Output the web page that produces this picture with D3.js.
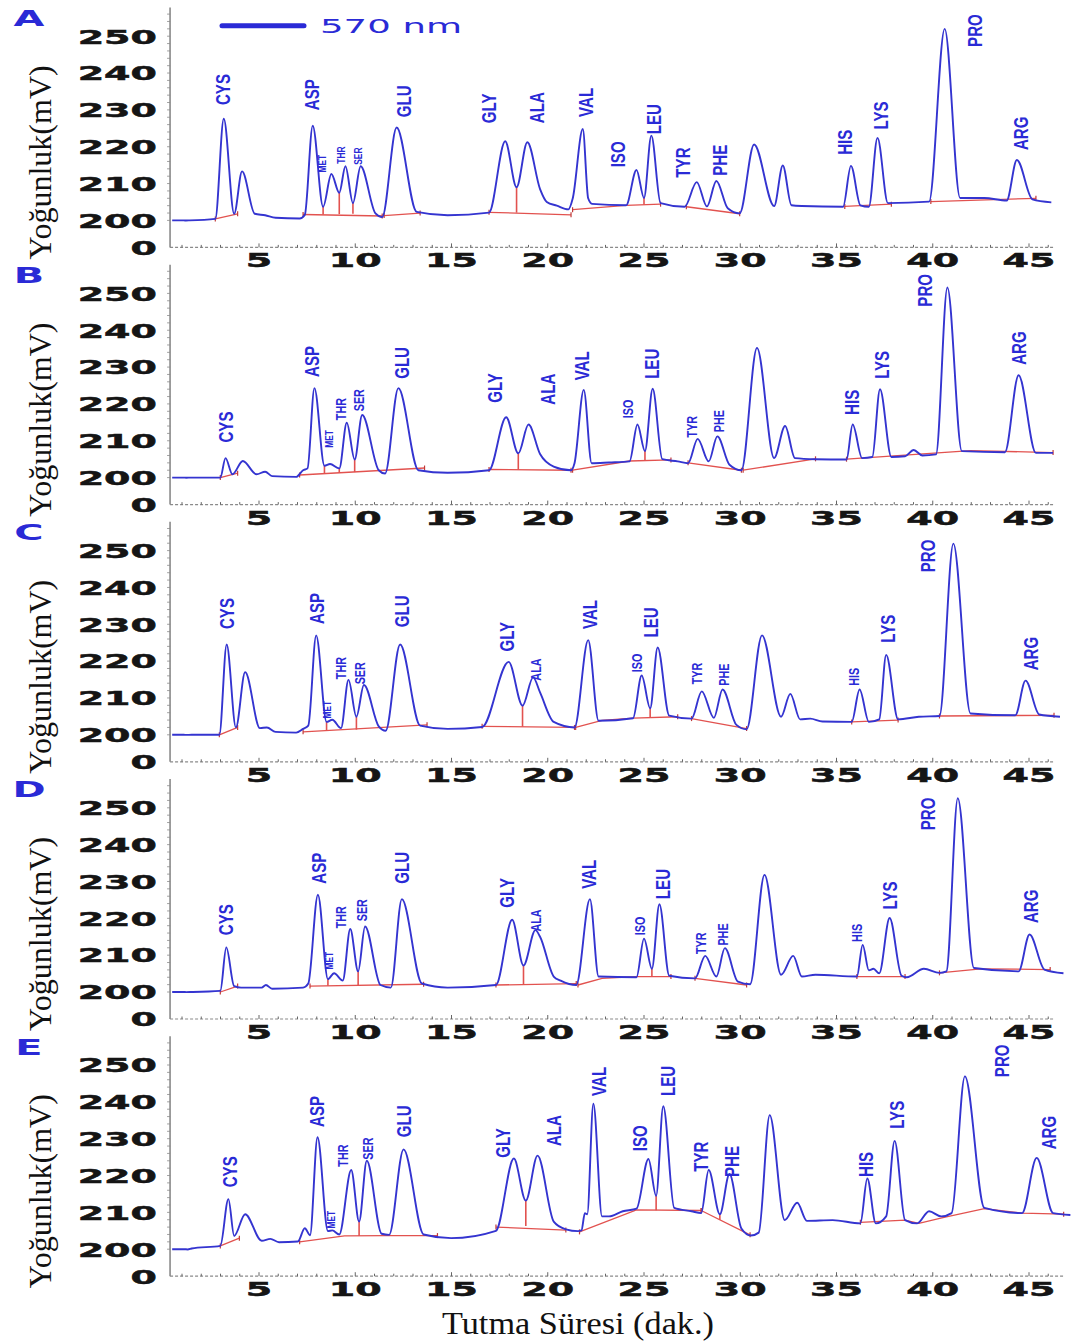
<!DOCTYPE html>
<html>
<head>
<meta charset="utf-8">
<script src="https://cdn.jsdelivr.net/npm/d3@7"></script>
<style>
  body { margin: 0; background: #fff; }
  svg { display: block; }
</style>
</head>
<body>
<div id="chart"></div>
<script>
// ---------------------------------------------------------------------------//
// Data: retention time (min) and signal (mV)
// ---------------------------------------------------------------------------//
const panelNames = ["A", "B", "C", "D", "E"];
const xTicks = [5, 10, 15, 20, 25, 30, 35, 40, 45];
const yTicks = [0, 200, 210, 220, 230, 240, 250];

const traceA = [
  [0.49, 200], [1.1, 200], [1.21, 199.5], [1.4, 200], [2.73, 200.4], [3.17, 227.6], [3.71, 201.8], [4.12, 213.3],
  [4.78, 201.8], [5.32, 201.4], [5.86, 200.7], [7.11, 200.5], [7.38, 201.5], [7.79, 225.7], [8.33, 203.7],
  [8.76, 212.6], [9.17, 207.5], [9.49, 214.7], [9.88, 204.7], [10.28, 214.7], [11.05, 201.9], [11.40, 200.9],
  [12.15, 225.2], [13.19, 202.3], [14.8, 201.4], [16.95, 202.1], [17.79, 221.5], [18.38, 209], [18.94, 221.2],
  [19.6, 208.5], [19.95, 205], [20.47, 204], [21.07, 203], [21.3, 206], [21.82, 224.8], [22.1, 206], [22.3, 204.5],
  [24.07, 204.1], [24.61, 213.7], [25.0, 206.1], [25.38, 223.0], [25.86, 204.7], [27.11, 203.7], [27.74, 210.4],
  [28.27, 203.8], [28.76, 210.7], [29.35, 203.3], [29.97, 201.9], [30.72, 220.6], [31.76, 203.9], [32.21, 214.9],
  [32.66, 204.1], [33.2, 203.9], [35.34, 203.7], [35.75, 214.8], [36.24, 204.1], [36.68, 203.7], [37.13, 222.4],
  [37.67, 204.7], [39.81, 205.1], [40.62, 252.0], [41.42, 206.1], [42.68, 206.1], [43.84, 205.4], [44.37, 216.4],
  [45.18, 205.7], [46.16, 204.9]
];
const traceB = [
  [0.49, 200], [1.1, 200], [1.21, 199.3], [1.5, 200], [2.99, 200], [3.26, 205.3], [3.62, 200.9], [4.16, 204.5],
  [4.87, 200.9], [5.32, 201.6], [5.68, 200.4], [6.93, 200.2], [7.29, 202.0], [7.52, 202.5], [7.88, 224.3],
  [8.40, 203.2], [8.69, 203.7], [9.17, 202.5], [9.56, 214.9], [9.97, 204.9], [10.36, 217.0], [11.22, 202.0],
  [11.55, 201.1], [12.24, 224.3], [13.28, 202.0], [14.8, 201.3], [16.95, 202.0], [17.84, 216.4], [18.47, 206.6],
  [19.0, 214.4], [19.6, 206.4], [20.31, 203.0], [21.21, 202.0], [21.39, 203.9], [21.87, 223.8], [22.28, 203.9],
  [23.18, 204.1], [24.25, 204.4], [24.66, 214.4], [25.05, 207.2], [25.45, 224.1], [25.95, 205.0], [26.75, 204.4],
  [27.29, 203.9], [27.79, 210.5], [28.36, 204.4], [28.81, 211.2], [29.44, 203.5], [30.06, 202.0], [30.87, 235.2],
  [31.76, 205.3], [32.33, 214.0], [32.84, 205.3], [33.91, 205.0], [35.52, 204.9], [35.84, 214.4], [36.33, 205.3],
  [36.86, 205.6], [37.26, 224.0], [37.85, 205.6], [38.56, 205.8], [39.01, 207.5], [39.46, 206.0], [40.17, 206.3],
  [40.76, 251.6], [41.51, 207.2], [43.75, 206.9], [44.46, 227.8], [45.36, 206.7], [46.25, 206.7]
];
const traceC = [
  [0.49, 200], [1.1, 200], [1.21, 199.2], [1.5, 200], [2.94, 200], [3.32, 224.5], [3.80, 202.0], [4.28, 217.0],
  [5.05, 201.8], [5.41, 202.0], [5.86, 200.8], [6.93, 200.6], [7.29, 201.6], [7.56, 202.5], [7.97, 227.0],
  [8.51, 203.5], [8.81, 204.1], [9.26, 201.8], [9.65, 214.9], [10.06, 204.9], [10.45, 213.5], [11.22, 202.3],
  [11.58, 201.1], [12.33, 224.5], [13.37, 202.5], [14.8, 201.6], [16.59, 202.1], [17.97, 219.8], [18.69, 207.9],
  [19.24, 215.6], [19.6, 211.5], [20.31, 203.5], [21.39, 202.0], [22.1, 225.7], [22.64, 203.8], [24.43, 204.5],
  [24.88, 216.1], [25.32, 207.2], [25.71, 223.7], [26.31, 205.2], [27.47, 204.4], [28.0, 211.8], [28.63, 204.6],
  [29.08, 212.3], [29.80, 202.7], [30.33, 201.5], [31.13, 227.0], [32.12, 204.9], [32.6, 211.1], [33.11, 204.2],
  [33.64, 204.4], [34.27, 203.6], [35.79, 203.5], [36.2, 212.3], [36.68, 203.5], [37.22, 204.2], [37.58, 221.7],
  [38.2, 204.2], [39.28, 204.9], [40.35, 205.1], [41.07, 251.9], [41.96, 205.8], [44.29, 205.3], [44.82, 214.7],
  [45.53, 205.5], [46.61, 204.9]
];
const traceD = [
  [0.49, 200], [1.1, 200], [1.21, 199.3], [1.5, 200], [2.99, 200.3], [3.30, 212.1], [3.71, 201.6], [4.07, 201.2],
  [5.14, 201.2], [5.36, 201.9], [5.68, 200.9], [7.29, 201.2], [7.56, 202.3], [8.06, 226.4], [8.58, 203.5],
  [8.90, 205.1], [9.35, 203.1], [9.74, 217.1], [10.15, 205.6], [10.51, 217.8], [11.31, 201.9], [11.85, 201.2],
  [12.42, 225.2], [13.46, 202.3], [14.8, 201.2], [17.31, 201.9], [18.15, 219.6], [18.74, 207.2], [19.36, 216.8],
  [19.6, 215.0], [20.31, 204.2], [20.67, 203.1], [21.48, 201.9], [22.19, 225.2], [22.64, 204.2], [24.61, 204.0],
  [25.0, 214.5], [25.41, 206.3], [25.8, 223.8], [26.31, 204.4], [27.65, 203.7], [28.18, 209.8], [28.76, 204.2],
  [29.2, 211.9], [29.88, 202.8], [30.51, 202.1], [31.26, 231.8], [32.12, 204.7], [32.75, 209.8], [33.2, 204.2],
  [33.91, 204.7], [36.06, 204.2], [36.36, 212.8], [36.68, 205.9], [36.92, 206.3], [37.22, 205.1], [37.76, 220.1],
  [38.38, 204.4], [38.65, 204.0], [39.54, 206.3], [40.35, 205.2], [40.71, 205.6], [41.3, 252.6], [42.14, 206.5],
  [44.46, 205.6], [45.03, 215.6], [45.8, 206.1], [46.79, 205.1]
];
const traceE = [
  [0.49, 200], [1.1, 200], [1.3, 198.3], [1.5, 200.2], [2.99, 200.9], [3.41, 213.6], [3.71, 203.6], [4.28, 209.5],
  [5.14, 202.3], [5.59, 202.8], [6.04, 201.9], [7.02, 202.1], [7.38, 205.7], [7.65, 203.8], [8.04, 230.4],
  [8.58, 204.9], [8.81, 205.1], [9.17, 204.0], [9.79, 221.5], [10.20, 207.5], [10.60, 224.0], [11.37, 204.2],
  [11.76, 203.9], [12.51, 227.1], [13.55, 204.0], [14.98, 203.0], [17.31, 205.0], [18.24, 224.6], [18.86, 213.2],
  [19.47, 225.4], [20.31, 207.5], [20.94, 205.4], [21.57, 204.9], [21.75, 205.1], [21.93, 209.8], [22.05, 209.5],
  [22.37, 239.5], [22.82, 208.9], [23.18, 208.9], [23.9, 210.3], [24.61, 211.0], [25.23, 224.5], [25.63, 214.5],
  [26.0, 238.8], [26.57, 211.2], [27.47, 210.3], [27.97, 209.8], [28.36, 221.5], [28.94, 209.5], [29.44, 220.4],
  [30.06, 205.6], [30.55, 203.7], [30.96, 204.5], [31.53, 236.4], [32.31, 207.9], [32.96, 212.6], [33.46, 207.7],
  [34.8, 207.9], [36.24, 207.0], [36.6, 219.2], [37.04, 207.0], [37.58, 208.9], [38.02, 229.4], [38.56, 207.9],
  [39.19, 207.0], [39.81, 210.3], [40.44, 208.9], [40.98, 209.8], [41.67, 246.9], [42.68, 211.2], [44.64, 209.8],
  [45.4, 224.8], [46.25, 209.8], [47.15, 209.3]
];

// peak name, retention time and signal at the foot of the label
const labelsA = [
  ["CYS", 3.12, 231.3], ["ASP", 7.74, 229.9], ["MET", 8.27, 213], ["THR", 9.26, 215.4], ["SER", 10.15, 215.1],
  ["GLU", 12.51, 228], ["GLY", 16.91, 226.4], ["ALA", 19.43, 226.4], ["VAL", 21.97, 228.1], ["ISO", 23.62, 214.4],
  ["LEU", 25.5, 223.4], ["TYR", 27.0, 211.6], ["PHE", 28.9, 212.1], ["HIS", 35.43, 217.8], ["LYS", 37.3, 224.7],
  ["PRO", 42.14, 247.1], ["ARG", 44.55, 219.1]
];
const labelsB = [
  ["CYS", 3.26, 209.5], ["ASP", 7.74, 227.3], ["MET", 8.63, 208.1], ["THR", 9.26, 215.6], ["SER", 10.15, 218],
  ["GLU", 12.38, 226.8], ["GLY", 17.25, 220.3], ["ALA", 19.96, 219.8], ["VAL", 21.75, 226.4], ["ISO", 24.16, 216.1],
  ["LEU", 25.41, 226.8], ["TYR", 27.47, 210.9], ["PHE", 28.9, 212.3], ["HIS", 35.79, 217], ["LYS", 37.31, 226.8],
  ["PRO", 39.55, 246.4], ["ARG", 44.46, 230.6]
];
const labelsC = [
  ["CYS", 3.3, 228.7], ["ASP", 7.97, 230.1], ["MET", 8.54, 204.4], ["THR", 9.26, 215.1], ["SER", 10.24, 213.7],
  ["GLU", 12.38, 229.2], ["GLY", 17.84, 222.6], ["ALA", 19.36, 214.7], ["VAL", 22.19, 228.7], ["ISO", 24.64, 217],
  ["LEU", 25.36, 226.4], ["TYR", 27.74, 213.7], ["PHE", 29.13, 213.3], ["HIS", 35.88, 213.3], ["LYS", 37.67, 225],
  ["PRO", 39.72, 244.1], ["ARG", 45.09, 217.5]
];
const labelsD = [
  ["CYS", 3.26, 215.4], ["ASP", 8.09, 229.4], ["MET", 8.63, 206.1], ["THR", 9.26, 217.3], ["SER", 10.33, 219.2],
  ["GLU", 12.38, 229.4], ["GLY", 17.84, 222.9], ["ALA", 19.36, 216.4], ["VAL", 22.1, 228], ["ISO", 24.78, 215.4],
  ["LEU", 25.95, 225.2], ["TYR", 27.92, 210.3], ["PHE", 29.08, 212.6], ["HIS", 36.06, 213.6], ["LYS", 37.76, 222.4],
  ["PRO", 39.72, 243.9], ["ARG", 45.09, 218.7]
];
const labelsE = [
  ["CYS", 3.44, 216.8], ["ASP", 8.0, 233.2], ["MET", 8.76, 205.6], ["THR", 9.35, 222.4], ["SER", 10.65, 224.3],
  ["GLU", 12.48, 230.4], ["GLY", 17.66, 224.8], ["ALA", 20.3, 228], ["VAL", 22.64, 241.6], ["ISO", 24.78, 226.6],
  ["LEU", 26.22, 241.6], ["TYR", 27.92, 221], ["PHE", 29.53, 219.6], ["HIS", 36.5, 219.6], ["LYS", 38.12, 232.7],
  ["PRO", 43.57, 246.7], ["ARG", 46.0, 227.1]
];

// integration baselines (red) and valley drop lines [time, top, bottom]
const baseA = [
  [[2.73, 200.4], [3.89, 201.8]], [[7.29, 201.6], [11.40, 201.2]], [[11.5, 201.3], [13.37, 202.0]],
  [[16.95, 202.2], [21.21, 201.5]], [[21.29, 202.9], [24.07, 204.1], [25.86, 204.4]], [[27.2, 203.7], [29.97, 201.8]],
  [[35.43, 203.8], [37.85, 204.4]], [[39.9, 205.1], [45.36, 206.0]]
];
const baseB = [
  [[2.99, 200.0], [3.89, 201.2]], [[7.11, 200.7], [13.6, 202.6]], [[16.95, 202.2], [21.21, 202.0]],
  [[21.29, 202.0], [24.25, 204.5], [26.4, 204.8]], [[27.29, 204.0], [30.06, 202.0]], [[30.15, 202.0], [33.91, 205.1]],
  [[35.52, 205.0], [41.96, 207.3], [46.25, 206.8]]
];
const baseC = [
  [[2.94, 200.0], [3.89, 202.0]], [[7.29, 200.8], [13.73, 202.7]], [[16.59, 202.3], [21.39, 202.0]],
  [[21.45, 202.0], [22.82, 203.9], [24.43, 204.5], [26.75, 204.9]], [[27.47, 204.4], [30.33, 201.7]],
  [[35.79, 203.5], [38.2, 204.0]], [[40.35, 205.1], [46.3, 205.3]]
];
const baseD = [
  [[2.99, 200.0], [3.89, 201.6]], [[7.65, 201.6], [13.55, 202.1]], [[17.31, 201.9], [21.48, 202.3]],
  [[21.57, 201.9], [22.82, 203.7], [24.61, 204.2], [26.4, 204.2]], [[27.65, 203.7], [30.33, 201.9]],
  [[36.06, 204.2], [38.56, 204.2]], [[40.35, 205.2], [42.5, 206.3], [46.1, 206.1]]
];
const baseE = [
  [[2.99, 200.9], [3.98, 203.0]], [[7.11, 202.0], [9.44, 203.6], [11.58, 203.7], [14.27, 203.7]],
  [[17.31, 206.0], [20.94, 205.2]], [[21.65, 204.7], [24.61, 210.7], [27.97, 210.5]], [[27.97, 210.5], [30.51, 203.9]],
  [[36.24, 207.3], [38.56, 207.9], [39.28, 207.0], [40.53, 208.6], [42.68, 211.0], [44.64, 209.8], [46.8, 209.5]]
];
const dropsA = [[8.33, 203.7, 201.6], [9.17, 207.5, 201.7], [9.88, 204.7, 201.8], [18.38, 209, 202.1], [25.0, 206.1, 204.3]];
const dropsB = [[8.40, 203.2, 201.2], [9.17, 202.5, 201.4], [9.97, 204.9, 201.5], [18.47, 206.6, 202.2], [25.05, 207.2, 204.6]];
const dropsC = [[8.51, 203.5, 201.2], [10.06, 204.9, 201.4], [18.69, 207.9, 202.2], [25.32, 207.2, 204.7]];
const dropsD = [[8.58, 203.5, 201.7], [10.15, 205.6, 201.8], [18.74, 207.2, 202.0], [25.41, 206.3, 204.2]];
const dropsE = [[10.20, 207.5, 203.6], [18.86, 213.2, 206.3], [25.63, 214.5, 210.6], [28.94, 209.5, 208.0]];

const traces = [traceA, traceB, traceC, traceD, traceE];
const labels = [labelsA, labelsB, labelsC, labelsD, labelsE];
const baselines = [baseA, baseB, baseC, baseD, baseE];
const drops = [dropsA, dropsB, dropsC, dropsD, dropsE];

// ---------------------------------------------------------------------------//
// Styles
// ---------------------------------------------------------------------------//
const labelClass = {
  A: { MET: "s", THR: "s", SER: "s" },
  B: { MET: "s", THR: "m", SER: "m", ISO: "m", TYR: "m", PHE: "m" },
  C: { MET: "s", THR: "m", SER: "m", ISO: "m", TYR: "m", PHE: "m", HIS: "m", ALA: "m" },
  D: { MET: "s", THR: "m", SER: "m", ISO: "m", TYR: "m", PHE: "m", HIS: "m", ALA: "m" },
  E: { MET: "s", THR: "m", SER: "m" },
};
const labelFont = { b: 21, m: 15, s: 10.5 };
const labelSquash = { b: 0.72, m: 0.72, s: 0.8 };

const blue = "#2a2ad6";
const traceColor = "#3434d0";
const red = "#e2524f";
const axisGrey = "#8a8a8a";

const width = 1080;
const height = 1342;
const panelStep = 257.2;
const firstY200 = 220.4;
const pxPerMv = 3.684;

const x = d3.scaleLinear().domain([0, 45]).range([162.75, 1029]);

const svg = d3.select("#chart").append("svg")
  .attr("width", width)
  .attr("height", height);

panelNames.forEach((name, i) => drawPanel(name, i));

// x-axis title
svg.append("text")
  .attr("x", 578)
  .attr("y", 1334)
  .attr("text-anchor", "middle")
  .attr("font-family", "'Liberation Serif', 'Times New Roman', serif")
  .attr("font-size", 31)
  .attr("textLength", 272)
  .attr("lengthAdjust", "spacingAndGlyphs")
  .attr("fill", "#111")
  .text("Tutma Süresi (dak.)");

function drawPanel(name, i) {
  const y200 = firstY200 + i * panelStep;
  const y = d3.scaleLinear()
    .domain([0, 200, 250])
    .range([y200 + 27, y200, y200 - 50 * pxPerMv]);
  const g = svg.append("g").attr("class", "panel panel-" + name);
  const xEnd = i === 4 ? 46.8 : 46.25;

  // y axis line + minor ticks
  const axisX = x(0.38);
  g.append("line")
    .attr("x1", axisX).attr("x2", axisX)
    .attr("y1", y(0)).attr("y2", y(257.8))
    .attr("stroke", axisGrey).attr("stroke-width", 1.6);
  const yMinor = d3.range(200, 258, 2);
  g.selectAll("line.ymin")
    .data(yMinor)
    .join("line")
    .attr("class", "ymin")
    .attr("x1", axisX - 3).attr("x2", axisX)
    .attr("y1", (d) => y(d)).attr("y2", (d) => y(d))
    .attr("stroke", axisGrey).attr("stroke-width", 0.8);

  // x axis, dotted with minute ticks
  g.append("line")
    .attr("x1", axisX).attr("x2", x(xEnd))
    .attr("y1", y(0)).attr("y2", y(0))
    .attr("stroke", axisGrey).attr("stroke-width", 1.2)
    .attr("stroke-dasharray", "3,2");
  g.selectAll("line.xmin")
    .data(d3.range(1, Math.floor(xEnd) + 1))
    .join("line")
    .attr("class", "xmin")
    .attr("x1", (d) => x(d)).attr("x2", (d) => x(d))
    .attr("y1", y(0)).attr("y2", (d) => y(0) - (d % 5 === 0 ? 4 : 2.5))
    .attr("stroke", "#666").attr("stroke-width", 1);

  // tick labels
  const tickFont = "'DejaVu Sans', Verdana, sans-serif";
  g.selectAll("text.ytick")
    .data(yTicks)
    .join("text")
    .attr("class", "ytick")
    .attr("transform", (d) => `translate(157,${y(d) + 7.3}) scale(1.9,1)`)
    .attr("text-anchor", "end")
    .attr("font-family", tickFont)
    .attr("font-weight", "bold")
    .attr("font-size", 20)
    .attr("fill", "#151515")
    .attr("stroke", "#151515")
    .attr("stroke-width", 0.5)
    .text((d) => d);
  g.selectAll("text.xtick")
    .data(xTicks)
    .join("text")
    .attr("class", "xtick")
    .attr("transform", (d) => `translate(${x(d)},${y200 + 47}) scale(1.9,1)`)
    .attr("text-anchor", "middle")
    .attr("font-family", tickFont)
    .attr("font-weight", "bold")
    .attr("font-size", 20)
    .attr("fill", "#151515")
    .attr("stroke", "#151515")
    .attr("stroke-width", 0.5)
    .text((d) => d);

  // y-axis title
  g.append("text")
    .attr("transform", `translate(40,${y200 - 58}) rotate(-90)`)
    .attr("text-anchor", "middle")
    .attr("dy", "0.35em")
    .attr("font-family", "'Liberation Serif', 'Times New Roman', serif")
    .attr("font-size", 32)
    .attr("fill", "#111")
    .text("Yoğunluk(mV)");

  // panel letter
  g.append("text")
    .attr("transform", `translate(29,${y200 - 194.6}) scale(1.9,1)`)
    .attr("text-anchor", "middle")
    .attr("font-family", tickFont)
    .attr("font-weight", "bold")
    .attr("font-size", 21)
    .attr("fill", blue)
    .text(name);

  // red integration baselines
  const segLine = d3.line().x((d) => x(d[0])).y((d) => y(d[1]));
  g.selectAll("path.base")
    .data(baselines[i])
    .join("path")
    .attr("class", "base")
    .attr("d", segLine)
    .attr("fill", "none")
    .attr("stroke", red)
    .attr("stroke-width", 1.3);
  const ends = baselines[i].flatMap((s) => [s[0], s[s.length - 1]]);
  g.selectAll("line.bmark")
    .data(ends)
    .join("line")
    .attr("class", "bmark")
    .attr("x1", (d) => x(d[0])).attr("x2", (d) => x(d[0]))
    .attr("y1", (d) => y(d[1]) - 2.5).attr("y2", (d) => y(d[1]) + 2.5)
    .attr("stroke", "#c03a3a").attr("stroke-width", 1.2);
  g.selectAll("line.drop")
    .data(drops[i])
    .join("line")
    .attr("class", "drop")
    .attr("x1", (d) => x(d[0])).attr("x2", (d) => x(d[0]))
    .attr("y1", (d) => y(d[1])).attr("y2", (d) => y(d[2]))
    .attr("stroke", red).attr("stroke-width", 1.6);

  // chromatogram trace
  const line = d3.line()
    .x((d) => x(d[0]))
    .y((d) => y(d[1]))
    .curve(d3.curveMonotoneX);
  g.append("path")
    .datum(traces[i])
    .attr("d", line)
    .attr("fill", "none")
    .attr("stroke", traceColor)
    .attr("stroke-width", 1.9)
    .attr("stroke-linejoin", "round");

  // peak labels
  g.selectAll("text.peak")
    .data(labels[i])
    .join("text")
    .attr("class", "peak")
    .attr("transform", (d) => {
      const c = (labelClass[name] || {})[d[0]] || "b";
      return `translate(${x(d[1])},${y(d[2])}) rotate(-90) scale(${labelSquash[c]},1)`;
    })
    .attr("dy", "0.36em")
    .attr("font-family", "'Liberation Sans', Arial, sans-serif")
    .attr("font-weight", "bold")
    .attr("font-size", (d) => labelFont[(labelClass[name] || {})[d[0]] || "b"])
    .attr("fill", blue)
    .text((d) => d[0]);

  // wavelength legend (first panel only)
  if (i === 0) {
    g.append("line")
      .attr("x1", 222).attr("x2", 304)
      .attr("y1", 25.8).attr("y2", 25.8)
      .attr("stroke", blue).attr("stroke-width", 5)
      .attr("stroke-linecap", "round");
    g.append("text")
      .attr("transform", "translate(320,33) scale(1.95,1)")
      .attr("font-family", tickFont)
      .attr("font-size", 19)
      .attr("fill", blue)
      .text("570 nm");
  }
}
</script>
</body>
</html>
